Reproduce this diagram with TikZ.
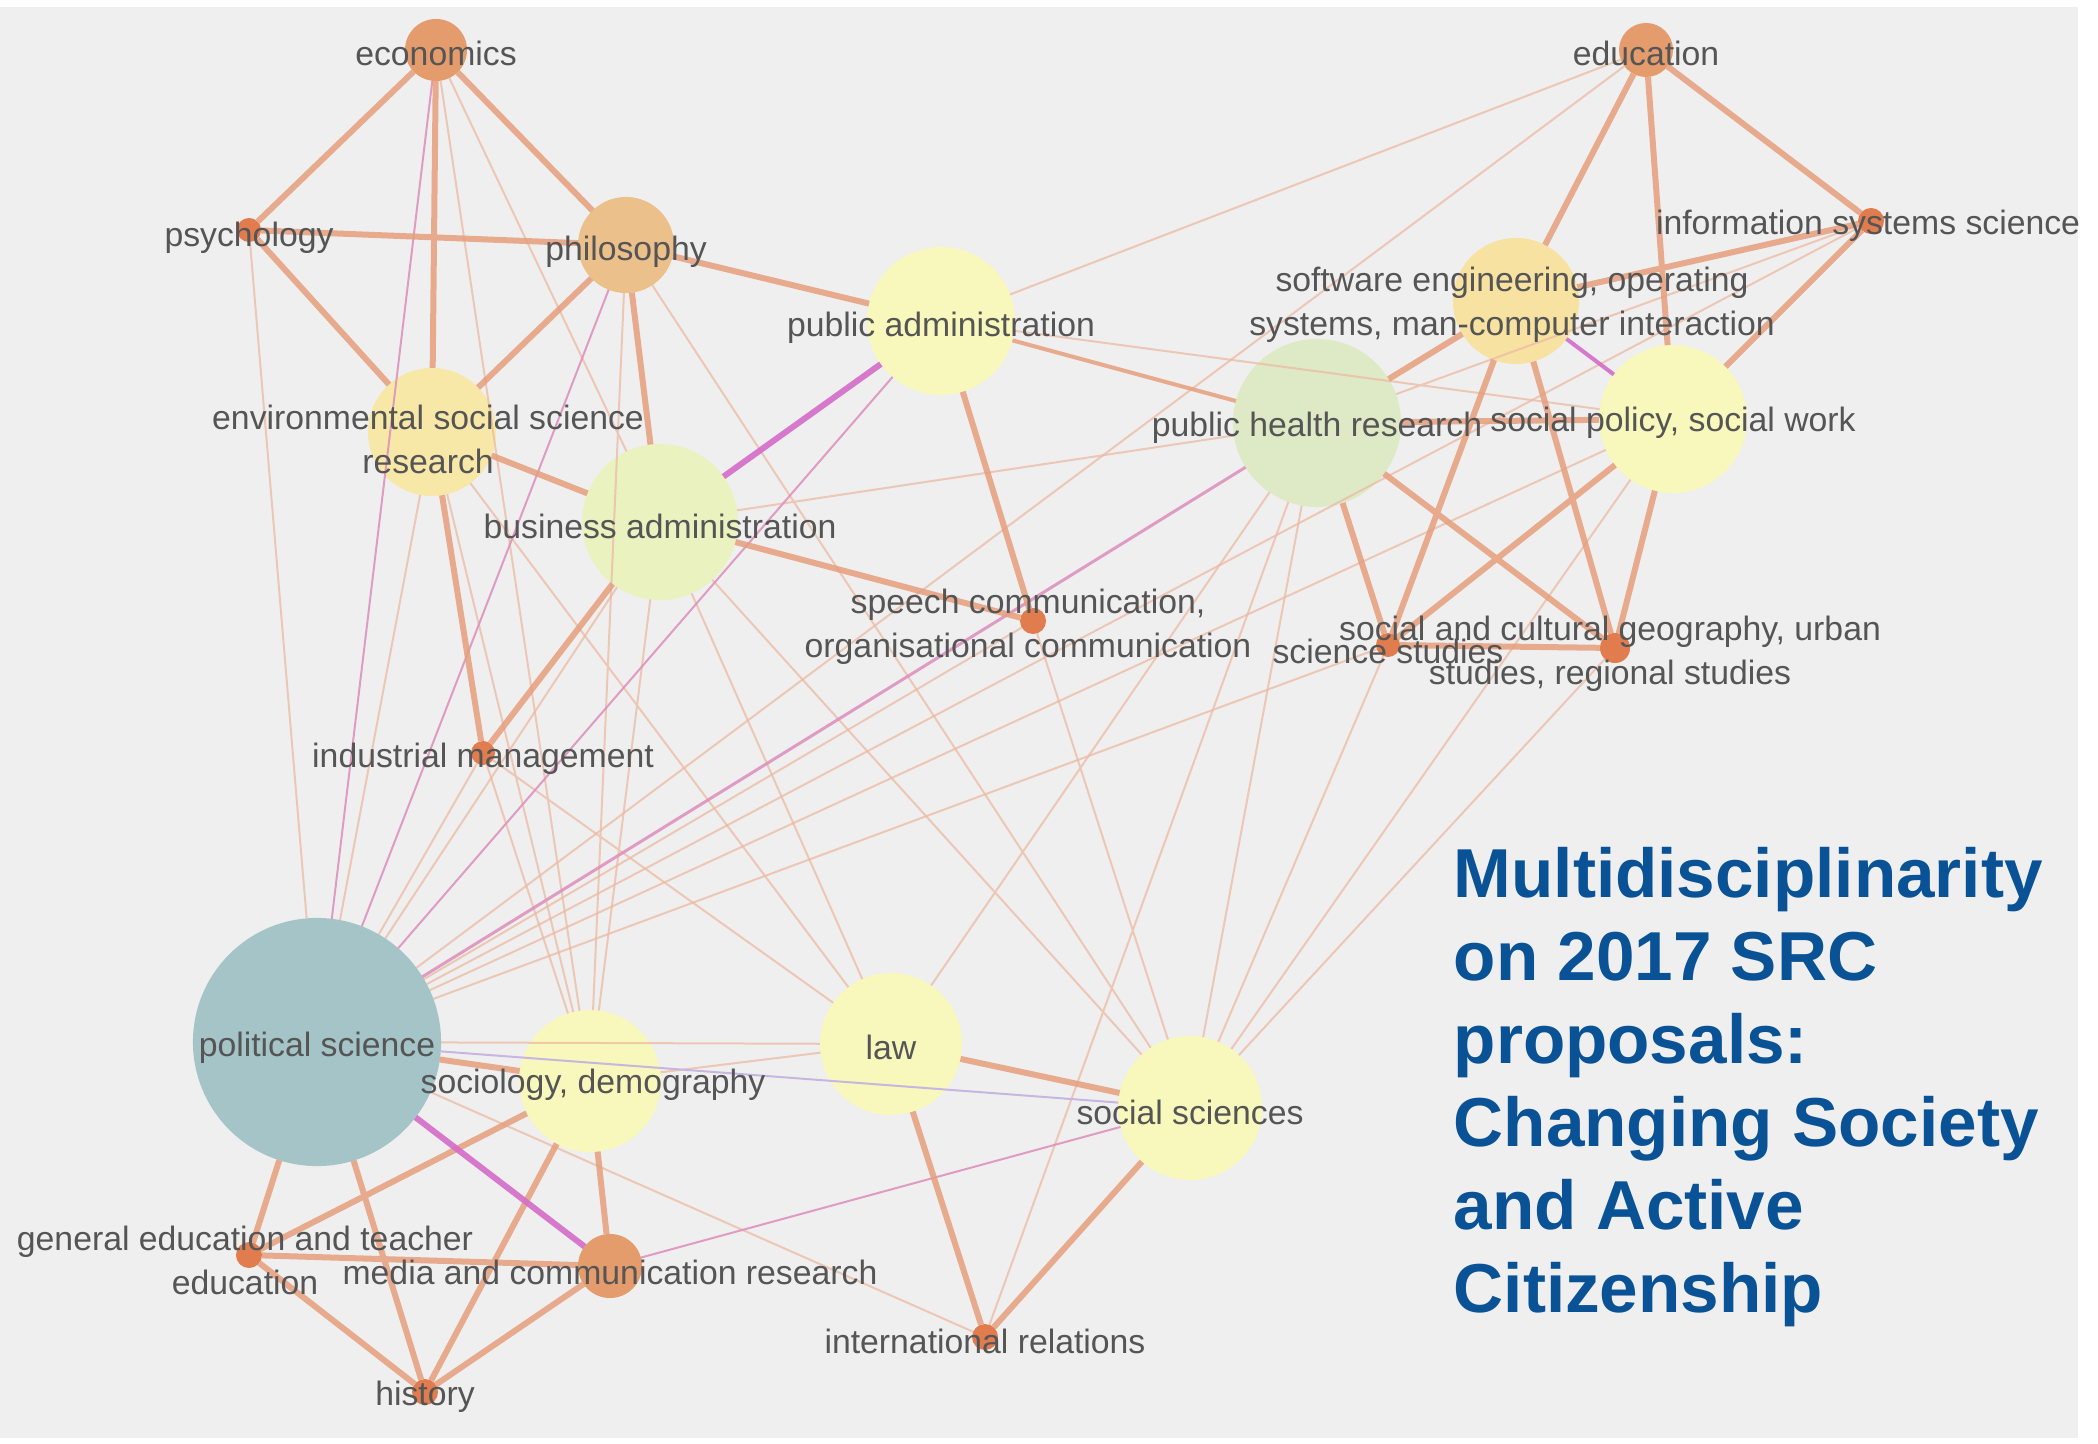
\documentclass[tikz,border=0pt]{standalone}
\usepackage{fontspec}
\setmainfont{Liberation Sans}
\usepackage{xcolor}
\definecolor{bggray}{RGB}{239,239,239}
\definecolor{txtgray}{RGB}{85,85,85}
\definecolor{titleblue}{RGB}{10,82,150}
\definecolor{linkorange}{RGB}{230,158,125}
\definecolor{linklight}{RGB}{236,186,162}
\definecolor{linkmagenta}{RGB}{212,108,200}
\definecolor{linkpink}{RGB}{222,146,190}
\definecolor{linklilac}{RGB}{200,182,226}
\definecolor{cteal}{RGB}{165,196,200}
\definecolor{cgreen}{RGB}{222,234,198}
\definecolor{clime}{RGB}{234,242,192}
\definecolor{cpale}{RGB}{248,247,188}
\definecolor{csand}{RGB}{248,232,168}
\definecolor{cwheat}{RGB}{247,226,162}
\definecolor{capricot}{RGB}{236,192,138}
\definecolor{corange}{RGB}{229,156,108}
\definecolor{cdot}{RGB}{224,124,78}
\tikzset{
    field/.style={circle,draw=none,inner sep=0pt,outer sep=0pt},
    lbl/.style={text=txtgray,font=\fontsize{9.6}{12.5}\selectfont,align=center,inner sep=0pt},
    tk/.style={draw=linkorange,line width=0.06cm,draw opacity=0.85},
    md/.style={draw=linkorange,line width=0.04cm,draw opacity=0.85},
    tn/.style={draw=linklight,line width=0.02cm,draw opacity=0.75}
}

\begin{document}
\begin{tikzpicture}[x=0.01cm,y=-0.01cm]
\tikzset{
    mg/.style={draw=linkmagenta,line width=0.06cm,draw opacity=0.9},
    mgthin/.style={draw=linkpink,line width=0.02cm,draw opacity=0.9},
    title/.style={text=titleblue,font=\fontsize{19.7}{23.6}\selectfont\bfseries,align=left,inner sep=0pt,anchor=north west}
}
  \useasboundingbox (0,0) rectangle (2098,1443);
  \fill[white] (0,0) rectangle (2098,1443);
  \fill[bggray] (0,7) rectangle (2078,1438);
  \begin{scope}
  \clip (0,7) rectangle (2078,1438);
  % fields
  \node[field,fill=corange,minimum size=0.62cm] (eco) at (436,50) {};
  \node[field,fill=cdot,minimum size=0.24cm] (psy) at (249,230) {};
  \node[field,fill=capricot,minimum size=0.96cm] (phil) at (626,245) {};
  \node[field,fill=cpale,minimum size=1.48cm] (pubadm) at (941,321) {};
  \node[field,fill=csand,minimum size=1.28cm] (env) at (432,432) {};
  \node[field,fill=clime,minimum size=1.56cm] (busadm) at (660,522) {};
  \node[field,fill=cdot,minimum size=0.26cm] (speech) at (1033,621) {};
  \node[field,fill=cdot,minimum size=0.24cm] (indm) at (483,753) {};
  \node[field,fill=corange,minimum size=0.54cm] (edu) at (1646,50) {};
  \node[field,fill=cdot,minimum size=0.26cm] (info) at (1871,221) {};
  \node[field,fill=cwheat,minimum size=1.26cm] (soft) at (1516,301) {};
  \node[field,fill=cgreen,minimum size=1.68cm] (pubh) at (1317,423) {};
  \node[field,fill=cpale,minimum size=1.48cm] (socpol) at (1673,419) {};
  \node[field,fill=cdot,minimum size=0.24cm] (scist) at (1388,645) {};
  \node[field,fill=cdot,minimum size=0.30cm] (geo) at (1615,648) {};
  \node[field,fill=cteal,minimum size=2.48cm] (poli) at (317,1042) {};
  \node[field,fill=cpale,minimum size=1.42cm] (soc) at (590,1081) {};
  \node[field,fill=cpale,minimum size=1.42cm] (law) at (891,1044) {};
  \node[field,fill=cpale,minimum size=1.44cm] (socsci) at (1190,1108) {};
  \node[field,fill=cdot,minimum size=0.26cm] (gened) at (249,1255) {};
  \node[field,fill=corange,minimum size=0.64cm] (media) at (610,1266) {};
  \node[field,fill=cdot,minimum size=0.26cm] (hist) at (425,1392) {};
  \node[field,fill=cdot,minimum size=0.26cm] (intrel) at (985,1337) {};
  % weak links
  \draw[tn] (psy) -- (poli) (env) -- (poli) (busadm) -- (poli) (indm) -- (poli) (speech) -- (poli)
    (socpol) -- (poli) (info) -- (poli) (edu) -- (poli) (scist) -- (poli) (intrel) -- (poli) (law) -- (poli);
  \draw[tn] (eco) -- (soc) (eco) -- (busadm) (env) -- (soc) (env) -- (law) (busadm) -- (soc)
    (busadm) -- (law) (indm) -- (soc) (indm) -- (law) (phil) -- (socsci) (busadm) -- (pubh)
    (edu) -- (pubadm) (pubadm) -- (socpol) (info) -- (pubh) (pubh) -- (law) (pubh) -- (socsci)
    (pubh) -- (intrel) (scist) -- (socsci) (geo) -- (socsci) (socpol) -- (socsci) (speech) -- (socsci)
    (busadm) -- (socsci) (soc) -- (law) (phil) -- (soc);
  \draw[mgthin] (eco) -- (poli) (phil) -- (poli) (pubadm) -- (poli) (media) -- (socsci);
  \draw[mgthin,line width=0.03cm] (pubh) -- (poli);
  \draw[draw=linklilac,line width=0.02cm] (poli) -- (socsci);
  % strong links
  \draw[md] (pubadm) -- (pubh);
  \draw[tk] (eco) -- (psy) (eco) -- (env) (eco) -- (phil) (psy) -- (phil) (psy) -- (env) (phil) -- (env)
    (phil) -- (busadm) (phil) -- (pubadm) (env) -- (busadm) (env) -- (indm) (busadm) -- (indm)
    (busadm) -- (speech) (pubadm) -- (speech);
  \draw[tk] (edu) -- (soft) (edu) -- (socpol) (edu) -- (info) (info) -- (soft) (info) -- (socpol)
    (soft) -- (pubh) (soft) -- (scist) (soft) -- (geo) (pubh) -- (socpol) (pubh) -- (scist)
    (pubh) -- (geo) (socpol) -- (scist) (socpol) -- (geo) (scist) -- (geo);
  \draw[tk] (poli) -- (soc) (poli) -- (gened) (poli) -- (hist) (soc) -- (gened) (soc) -- (hist)
    (soc) -- (media) (law) -- (socsci) (law) -- (intrel) (socsci) -- (intrel) (gened) -- (media)
    (gened) -- (hist) (media) -- (hist);
  \draw[mg] (busadm) -- (pubadm) (poli) -- (media);
  \draw[mg,line width=0.04cm] (soft) -- (socpol);
  % labels
  \node[lbl] (eco-l) at (436,53) {economics};
  \node[lbl] (psy-l) at (249,238) {psychology};
  \node[lbl] (phil-l) at (626,252) {philosophy};
  \node[lbl] (pubadm-l) at (941,328) {public administration};
  \node[lbl] (env-l) at (428,439) {environmental social science\\research};
  \node[lbl] (busadm-l) at (660,526) {business administration};
  \node[lbl] (speech-l) at (1028,627) {speech communication,\\organisational communication};
  \node[lbl] (indm-l) at (483,759) {industrial management};
  \node[lbl] (edu-l) at (1646,53) {education};
  \node[lbl] (info-l) at (1868,226) {information systems science};
  \node[lbl] (soft-l) at (1512,305) {software engineering, operating\\systems, man-computer interaction};
  \node[lbl] (pubh-l) at (1317,428) {public health research};
  \node[lbl] (socpol-l) at (1673,423) {social policy, social work};
  \node[lbl] (scist-l) at (1388,651) {science studies};
  \node[lbl] (geo-l) at (1610,654) {social and cultural geography, urban\\studies, regional studies};
  \node[lbl] (poli-l) at (317,1048) {political science};
  \node[lbl] (soc-l) at (593,1085) {sociology, demography};
  \node[lbl] (law-l) at (891,1047) {law};
  \node[lbl] (socsci-l) at (1190,1112) {social sciences};
  \node[lbl] (gened-l) at (245,1260) {general education and teacher\\education};
  \node[lbl] (media-l) at (610,1272) {media and communication research};
  \node[lbl] (hist-l) at (425,1397) {history};
  \node[lbl] (intrel-l) at (985,1341) {international relations};
  \node[title] (heading) at (1453,847) {Multidisciplinarity\\on 2017 SRC\\proposals:\\Changing Society\\and Active\\Citizenship};
  \end{scope}
\end{tikzpicture}
\end{document}
